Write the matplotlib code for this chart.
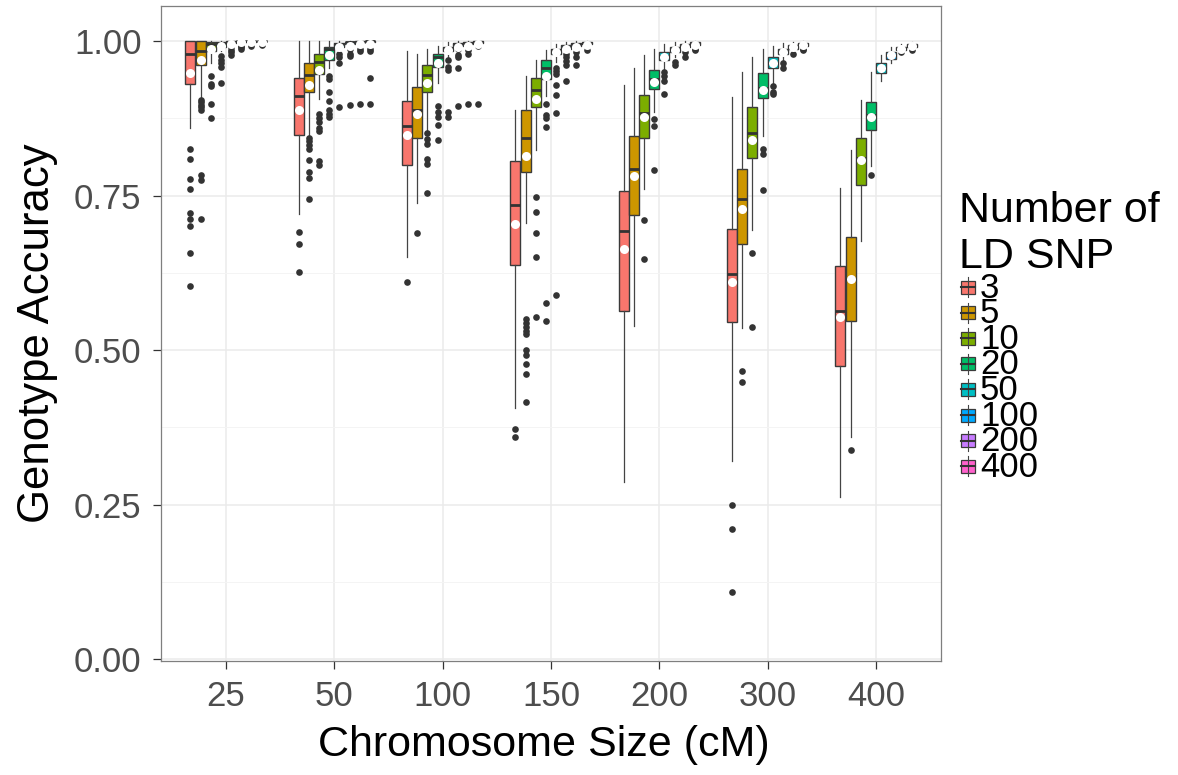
import matplotlib.pyplot as plt
from matplotlib.patches import Rectangle

plt.rcParams['font.family'] = ['Liberation Sans', 'DejaVu Sans']

sizes = ["25", "50", "100", "150", "200", "300", "400"]
snps = ["3", "5", "10", "20", "50", "100", "200", "400"]
colors = ["#F8766D", "#CD9600", "#7CAE00", "#00BE67", "#00BFC4", "#00A9FF", "#C77CFF", "#FF61CC"]

# one row per chromosome size, one value per number of LD SNP
whislo = [
    [0.859, 0.905, 0.964, 0.984, 0.993, 0.997, 0.998, 0.999],
    [0.720, 0.849, 0.906, 0.957, 0.984, 0.992, 0.995, 0.996],
    [0.650, 0.738, 0.855, 0.932, 0.972, 0.985, 0.990, 0.993],
    [0.406, 0.706, 0.824, 0.911, 0.967, 0.980, 0.987, 0.991],
    [0.287, 0.539, 0.761, 0.885, 0.955, 0.975, 0.985, 0.990],
    [0.320, 0.536, 0.694, 0.847, 0.930, 0.965, 0.980, 0.988],
    [0.263, 0.359, 0.676, 0.798, 0.935, 0.965, 0.980, 0.986],
]
q1 = [
    [0.931, 0.961, 0.984, 0.991, 0.997, 0.999, 0.999, 1.000],
    [0.849, 0.918, 0.947, 0.970, 0.990, 0.996, 0.998, 0.999],
    [0.799, 0.843, 0.918, 0.959, 0.984, 0.992, 0.995, 0.997],
    [0.638, 0.788, 0.893, 0.939, 0.980, 0.988, 0.992, 0.995],
    [0.564, 0.718, 0.844, 0.923, 0.969, 0.983, 0.990, 0.994],
    [0.545, 0.672, 0.811, 0.908, 0.956, 0.979, 0.988, 0.993],
    [0.475, 0.548, 0.768, 0.857, 0.949, 0.972, 0.985, 0.990],
]
med = [
    [0.979, 0.984, 0.995, 0.997, 0.999, 1.000, 1.000, 1.000],
    [0.911, 0.946, 0.967, 0.987, 0.995, 0.998, 0.999, 1.000],
    [0.862, 0.889, 0.945, 0.974, 0.989, 0.995, 0.997, 0.999],
    [0.735, 0.843, 0.921, 0.957, 0.985, 0.991, 0.995, 0.997],
    [0.693, 0.793, 0.884, 0.939, 0.976, 0.987, 0.993, 0.996],
    [0.623, 0.745, 0.851, 0.924, 0.965, 0.984, 0.991, 0.995],
    [0.564, 0.616, 0.811, 0.880, 0.956, 0.977, 0.988, 0.992],
]
q3 = [
    [1.000, 1.000, 0.999, 0.998, 1.000, 1.000, 1.000, 1.000],
    [0.941, 0.965, 0.980, 0.990, 0.997, 0.999, 1.000, 1.000],
    [0.903, 0.926, 0.961, 0.979, 0.991, 0.997, 0.999, 1.000],
    [0.806, 0.889, 0.941, 0.970, 0.988, 0.994, 0.997, 0.999],
    [0.757, 0.847, 0.913, 0.953, 0.982, 0.990, 0.995, 0.998],
    [0.696, 0.793, 0.893, 0.949, 0.974, 0.988, 0.994, 0.997],
    [0.637, 0.683, 0.844, 0.901, 0.964, 0.982, 0.991, 0.995],
]
whishi = [
    [1.000, 1.000, 1.000, 1.000, 1.000, 1.000, 1.000, 1.000],
    [1.000, 1.000, 1.000, 1.000, 1.000, 1.000, 1.000, 1.000],
    [0.984, 0.980, 0.987, 0.993, 0.998, 1.000, 1.000, 1.000],
    [0.888, 0.944, 0.970, 0.985, 0.995, 0.999, 1.000, 1.000],
    [0.929, 0.956, 0.977, 0.988, 0.995, 0.998, 1.000, 1.000],
    [0.909, 0.951, 0.974, 0.987, 0.993, 0.997, 0.999, 1.000],
    [0.762, 0.824, 0.905, 0.951, 0.978, 0.990, 0.996, 0.999],
]
means = [
    [0.949, 0.970, 0.987, 0.993, 0.996, 0.998, 0.999, 0.999],
    [0.888, 0.929, 0.953, 0.977, 0.990, 0.993, 0.995, 0.995],
    [0.849, 0.882, 0.932, 0.965, 0.985, 0.991, 0.993, 0.995],
    [0.704, 0.814, 0.907, 0.944, 0.982, 0.988, 0.991, 0.994],
    [0.664, 0.782, 0.877, 0.934, 0.974, 0.985, 0.991, 0.994],
    [0.611, 0.729, 0.840, 0.921, 0.964, 0.983, 0.990, 0.994],
    [0.553, 0.615, 0.807, 0.878, 0.956, 0.977, 0.988, 0.992],
]
outliers = [
    [[0.826, 0.809, 0.777, 0.761, 0.722, 0.712, 0.701, 0.658, 0.604],
     [0.905, 0.901, 0.897, 0.893, 0.888, 0.783, 0.775, 0.712],
     [0.944, 0.931, 0.927, 0.898, 0.876],
     [0.976, 0.970, 0.964, 0.958, 0.932],
     [0.990, 0.986, 0.982, 0.978],
     [0.993, 0.990, 0.988],
     [0.995, 0.993],
     [0.996, 0.994]],
    [[0.691, 0.672, 0.626],
     [0.844, 0.839, 0.832, 0.826, 0.807, 0.788, 0.778, 0.745],
     [0.883, 0.876, 0.870, 0.859, 0.855, 0.806, 0.799],
     [0.944, 0.939, 0.918, 0.903, 0.888, 0.882, 0.877],
     [0.980, 0.974, 0.964, 0.893],
     [0.987, 0.980, 0.976, 0.897],
     [0.988, 0.984, 0.898],
     [0.987, 0.984, 0.941, 0.899]],
    [[0.611],
     [0.689],
     [0.851, 0.842, 0.834, 0.809, 0.801, 0.755],
     [0.895, 0.886, 0.877, 0.864, 0.840],
     [0.969, 0.959, 0.953, 0.886, 0.878],
     [0.987, 0.978, 0.974, 0.957, 0.895],
     [0.990, 0.985, 0.980, 0.898],
     [0.993, 0.899]],
    [[0.373, 0.360],
     [0.551, 0.544, 0.537, 0.531, 0.526, 0.500, 0.492, 0.477, 0.462, 0.416],
     [0.748, 0.724, 0.689, 0.650, 0.553],
     [0.898, 0.880, 0.876, 0.861, 0.576, 0.548],
     [0.957, 0.952, 0.947, 0.929, 0.913, 0.884, 0.590],
     [0.980, 0.975, 0.968, 0.962, 0.936],
     [0.989, 0.983, 0.975, 0.962],
     [0.992, 0.985]],
    [[],
     [],
     [0.711, 0.647],
     [0.874, 0.863, 0.791],
     [0.951, 0.944, 0.936, 0.914],
     [0.967, 0.961],
     [0.983, 0.974],
     [0.988, 0.985]],
    [[0.250, 0.211, 0.109],
     [0.467, 0.449],
     [0.657, 0.538],
     [0.826, 0.817, 0.760],
     [0.928, 0.918, 0.914],
     [0.964, 0.957],
     [0.980],
     [0.987, 0.986]],
    [[],
     [0.339],
     [],
     [0.784],
     [],
     [],
     [0.983],
     [0.986]],
]

fig = plt.figure(figsize=(11.78, 7.75), dpi=100)
ax = fig.add_axes([161 / 1178, 1 - 661 / 775, 780 / 1178, 655 / 775])

dodge = 0.75 / 8
for j in range(len(snps)):
    stats = []
    for i in range(len(sizes)):
        stats.append(dict(whislo=whislo[i][j], q1=q1[i][j], med=med[i][j], q3=q3[i][j],
                          whishi=whishi[i][j], mean=means[i][j], fliers=outliers[i][j]))
    pos = [i + 1 + (j - 3.5) * dodge for i in range(len(sizes))]
    ax.bxp(stats, positions=pos, widths=dodge * 0.98, patch_artist=True,
           showcaps=False, showmeans=True, manage_ticks=False,
           boxprops=dict(facecolor=colors[j], edgecolor="#3A3A3A", linewidth=1.0),
           medianprops=dict(color="#333333", linewidth=2),
           whiskerprops=dict(color="#444444", linewidth=0.9),
           flierprops=dict(marker="o", markerfacecolor="#333333", markeredgecolor="none", markersize=4.8),
           meanprops=dict(marker="o", markerfacecolor="white", markeredgecolor="none", markersize=6.5))

ax.set_xlim(0.4, 7.6)
ax.set_ylim(-0.003, 1.057)
ax.set_xticks(range(1, 8))
ax.set_xticklabels(sizes)
ax.set_yticks([0, 0.25, 0.5, 0.75, 1.0])
ax.set_yticklabels(["0.00", "0.25", "0.50", "0.75", "1.00"])
ax.set_yticks([0.125, 0.375, 0.625, 0.875], minor=True)
ax.set_axisbelow(True)
ax.grid(True, which="major", color="#EBEBEB", linewidth=1.1)
ax.grid(True, which="minor", axis="y", color="#F4F4F4", linewidth=0.7)
ax.tick_params(which="major", length=6, width=0.9, color="#333333", labelcolor="#4D4D4D",
               labelsize=25, pad=8)
ax.tick_params(which="minor", length=0)
for s in ax.spines.values():
    s.set_color("#7F7F7F")
    s.set_linewidth(0.9)

fig.text(544 / 1178, 1 - 745 / 775, "Chromosome Size (cM)", fontsize=31, ha="center", va="center")
fig.text(38 / 1178, 1 - 333 / 775, "Genotype Accuracy", fontsize=31.5, ha="center", va="center",
         rotation=90)

# legend drawn in pixel coordinates
lg = fig.add_axes([0, 0, 1, 1])
lg.set_xlim(0, 1178)
lg.set_ylim(775, 0)
lg.axis("off")
lg.text(959, 222, "Number of", fontsize=31, ha="left", va="baseline")
lg.text(959, 268, "LD SNP", fontsize=31, ha="left", va="baseline")
for j, lab in enumerate(snps):
    yc = 287 + j * 25.6
    lg.plot([968, 968], [yc - 10, yc + 10], color="#444444", lw=0.8)
    lg.add_patch(Rectangle((961, yc - 6.5), 14, 13, facecolor=colors[j], edgecolor="#3A3A3A", lw=0.9))
    lg.plot([961, 975], [yc, yc], color="#333333", lw=1.5)
    lg.text(980, yc + 1, lab, fontsize=25, ha="left", va="center")

fig.savefig("out.png", dpi=100)
